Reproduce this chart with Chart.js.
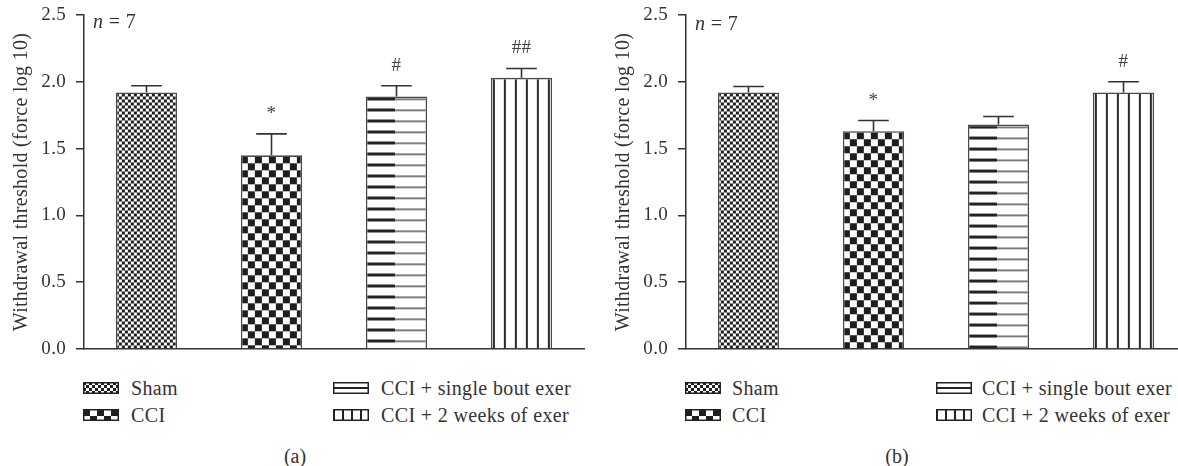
<!DOCTYPE html>
<html><head><meta charset="utf-8">
<script src="https://cdn.jsdelivr.net/npm/chart.js@4.4.1/dist/chart.umd.min.js"></script>
<style>
body{margin:0;width:1178px;height:466px;overflow:hidden;background:#fff;position:relative;font-family:"Liberation Serif",serif;color:#333}
canvas.ch{position:absolute;top:0}
.t{position:absolute;font-size:20px;line-height:22px;letter-spacing:0.35px;white-space:nowrap;transform:translateY(-50%)}
.sw{position:absolute;transform:translateY(-50%)}
.cap{position:absolute;font-size:20px;line-height:22px;transform:translate(-50%,-50%)}
</style></head><body>
<canvas class="ch" id="ca" width="589" height="360" style="left:0"></canvas>
<canvas class="ch" id="cb" width="584" height="360" style="left:602px"></canvas>
<script>
const categories = ['Sham', 'CCI', 'CCI + single bout exer', 'CCI + 2 weeks of exer'];
const meansA = [1.92, 1.45, 1.89, 2.03];
const errA   = [0.05, 0.16, 0.08, 0.07];
const marksA = ['', '*', '#', '##'];
const meansB = [1.92, 1.63, 1.68, 1.92];
const errB   = [0.045, 0.08, 0.06, 0.08];
const marksB = ['', '*', '', '#'];
const yTicks = [0, 0.5, 1.0, 1.5, 2.0, 2.5];
const yTitle = 'Withdrawal threshold (force log 10)';
const nLabel = '= 7';
const panelLabels = ['(a)', '(b)'];
const patternKinds = ['fine', 'coarse', 'hlines', 'vlines'];

const BAR_PCT = 0.49;
const FONT = '"Liberation Serif", serif';

function patternCanvas(kind, barW) {
  const c = document.createElement('canvas');
  const g = c.getContext('2d');
  if (kind === 'fine') {
    c.width = c.height = 6;
    g.fillStyle = '#fff'; g.fillRect(0, 0, 6, 6);
    g.fillStyle = '#1e1e1e'; g.fillRect(0, 0, 3, 3); g.fillRect(3, 3, 3, 3);
  } else if (kind === 'coarse') {
    c.width = c.height = 14;
    g.fillStyle = '#fff'; g.fillRect(0, 0, 14, 14);
    g.fillStyle = '#1e1e1e'; g.fillRect(0, 0, 7, 7); g.fillRect(7, 7, 7, 7);
  } else if (kind === 'hlines') {
    const w = Math.max(4, Math.round(barW));
    c.width = w; c.height = 11;
    g.fillStyle = '#fff'; g.fillRect(0, 0, w, 11);
    g.fillStyle = '#222'; g.fillRect(0, 0, Math.round(w * 0.47), 3);
    g.fillStyle = '#555'; g.fillRect(Math.round(w * 0.47), 1, w, 1.5);
  } else {
    c.width = 11; c.height = 10;
    g.fillStyle = '#fff'; g.fillRect(0, 0, 11, 10);
    g.fillStyle = '#2a2a2a'; g.fillRect(2, 0, 2, 10);
  }
  return c;
}

function bgFor(ctxArg) {
  const ch = ctxArg.chart;
  const i = ctxArg.dataIndex;
  const kind = patternKinds[i];
  const xs = ch.scales.x, ys = ch.scales.y;
  if (!ch.chartArea || !xs || !ys) return '#fff';
  const cw = xs.width / categories.length;
  const bw = cw * BAR_PCT;
  const x0 = xs.getPixelForValue(i) - bw / 2;
  const y0 = ys.getPixelForValue(ctxArg.raw);
  const p = ch.ctx.createPattern(patternCanvas(kind, bw), 'repeat');
  p.setTransform(new DOMMatrix([1, 0, 0, 1, x0, y0 + 1]));
  return p;
}

const spacingPlugin = {
  id: 'spacing',
  beforeDraw(chart) { chart.ctx.letterSpacing = '0.3px'; }
};

const errPlugin = {
  id: 'errbars',
  afterDatasetsDraw(chart, args, opts) {
    const { ctx } = chart;
    const ys = chart.scales.y;
    const meta = chart.getDatasetMeta(0);
    const vals = chart.data.datasets[0].data;
    ctx.save();
    ctx.strokeStyle = '#333';
    ctx.lineWidth = 1.6;
    meta.data.forEach((bar, i) => {
      const v = vals[i], e = opts.errors[i];
      const yt = ys.getPixelForValue(v);
      const ye = ys.getPixelForValue(v + e);
      const half = bar.width * 0.25;
      ctx.beginPath();
      ctx.moveTo(bar.x, yt); ctx.lineTo(bar.x, ye);
      ctx.moveTo(bar.x - half, ye); ctx.lineTo(bar.x + half, ye);
      ctx.stroke();
      if (opts.marks[i]) {
        ctx.fillStyle = '#444';
        ctx.font = '19px ' + FONT;
        ctx.textAlign = 'center';
        ctx.textBaseline = 'middle';
        ctx.fillText(opts.marks[i], bar.x, ye - 20);
      }
    });
    ctx.restore();
  }
};

function makeChart(id, means, errs, marks, padRight) {
  return new Chart(document.getElementById(id), {
    type: 'bar',
    data: {
      labels: categories,
      datasets: [{
        data: means,
        backgroundColor: bgFor,
        borderColor: '#4a4a4a',
        borderWidth: 1.6,
        borderSkipped: 'bottom',
        barPercentage: BAR_PCT,
        categoryPercentage: 1
      }]
    },
    options: {
      responsive: false,
      animation: false,
      events: [],
      layout: { padding: { top: 15, bottom: 11, left: 0, right: padRight } },
      plugins: {
        legend: { display: false },
        tooltip: { enabled: false },
        errbars: { errors: errs, marks: marks }
      },
      scales: {
        x: {
          grid: { display: false },
          ticks: { display: false },
          border: { display: true, color: '#333', width: 1.5 },
          afterFit: (s) => { s.height = 0; s.paddingLeft = 0; s.paddingRight = 0; }
        },
        y: {
          min: 0, max: 2.5,
          afterBuildTicks: (s) => { s.ticks = yTicks.map(v => ({ value: v })); },
          afterFit: (s) => { s.width = 84; s.paddingTop = 0; s.paddingBottom = 0; },
          ticks: {
            padding: 10,
            color: '#333',
            font: { family: FONT, size: 19 },
            callback: (v) => Number(v).toFixed(1)
          },
          grid: { drawOnChartArea: false, drawTicks: true, tickLength: 8, color: '#333', lineWidth: 1.5 },
          border: { display: true, color: '#333', width: 1.5 },
          title: {
            display: true, text: yTitle, color: '#333',
            font: { family: FONT, size: 20 },
            padding: { top: 10, bottom: 0 }
          }
        }
      }
    },
    plugins: [spacingPlugin, errPlugin]
  });
}

makeChart('ca', meansA, errA, marksA, 5);
makeChart('cb', meansB, errB, marksB, 0);

// legends, n labels, panel captions
function swatch(kind, x, y) {
  const c = document.createElement('canvas');
  c.width = 36; c.height = 12;
  c.className = 'sw';
  c.style.left = x + 'px'; c.style.top = y + 'px';
  const g = c.getContext('2d');
  if (kind === 'hlines') {
    g.fillStyle = '#fff'; g.fillRect(0, 0, 36, 12);
    g.fillStyle = '#222'; g.fillRect(0, 5, 36, 2);
  } else if (kind === 'vlines') {
    g.fillStyle = '#fff'; g.fillRect(0, 0, 36, 12);
    g.fillStyle = '#222';
    for (let xx = 0; xx < 36; xx += 9) g.fillRect(xx, 0, 2, 12);
  } else {
    g.fillStyle = g.createPattern(patternCanvas(kind, 36), 'repeat');
    g.fillRect(0, 0, 36, 12);
  }
  g.strokeStyle = '#222'; g.lineWidth = 1.5; g.strokeRect(0.75, 0.75, 34.5, 10.5);
  document.body.appendChild(c);
}
function text(str, x, y, cls, italicN) {
  const d = document.createElement('div');
  d.className = cls;
  d.style.left = x + 'px'; d.style.top = y + 'px';
  if (italicN) { const i = document.createElement('i'); i.textContent = 'n'; d.appendChild(i); d.appendChild(document.createTextNode(' ' + str)); }
  else d.textContent = str;
  document.body.appendChild(d);
}
const legendSpots = [
  { sx: 83, tx: 131, sx2: 333, tx2: 381 },
  { sx: 685, tx: 732, sx2: 936, tx2: 982 }
];
legendSpots.forEach((p) => {
  const rows = [388, 415];
  swatch(patternKinds[0], p.sx, rows[0]); text(categories[0], p.tx, rows[0], 't');
  swatch(patternKinds[1], p.sx, rows[1]); text(categories[1], p.tx, rows[1], 't');
  swatch(patternKinds[2], p.sx2, rows[0]); text(categories[2], p.tx2, rows[0], 't');
  swatch(patternKinds[3], p.sx2, rows[1]); text(categories[3], p.tx2, rows[1], 't');
});
text(nLabel, 93, 21, 't', true);
text(nLabel, 695, 23, 't', true);
text(panelLabels[0], 295, 456, 'cap');
text(panelLabels[1], 897, 456, 'cap');
</script>
</body></html>
